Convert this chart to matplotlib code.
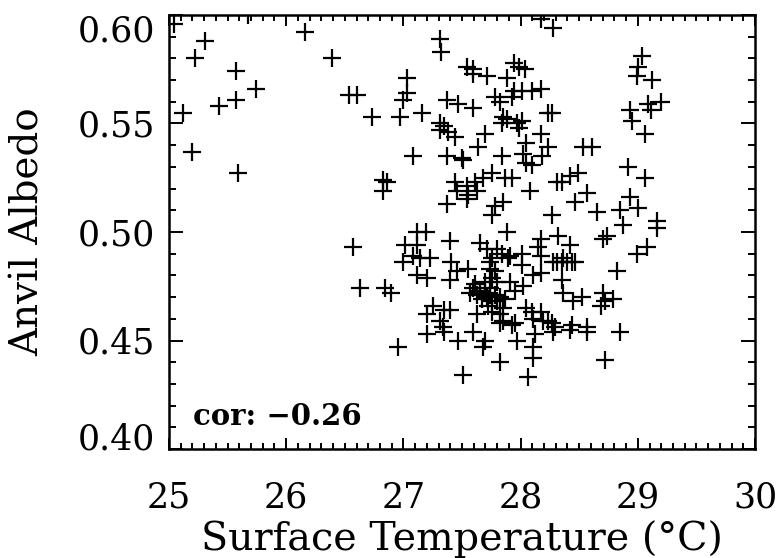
import matplotlib
matplotlib.use("Agg")
import matplotlib.pyplot as plt
from matplotlib.ticker import MultipleLocator

# Surface temperature (°C) and anvil albedo
temp_c = [
    # upper left
    25.04, 25.67, 25.31, 25.22, 25.57, 25.74, 25.57, 25.43, 25.12, 25.20, 25.59,
    26.16, 26.39, 26.54, 26.60,
    # upper middle
    27.31, 27.32, 28.17, 28.28, 27.54, 27.59, 27.59, 27.71, 27.94, 27.99, 28.04,
    27.88, 27.03, 27.03, 27.00, 26.73, 26.97, 27.16, 27.37, 27.47, 27.59, 27.78,
    27.82, 27.94, 28.01, 28.10, 28.17, 27.93, 27.85, 27.88, 27.84, 27.97, 28.01,
    27.99, 28.23, 28.27, 27.31, 27.35, 27.31, 27.38, 27.44, 27.70, 28.17, 28.05,
    27.64, 28.23, 27.08, 27.37, 27.50, 27.51, 27.84, 28.02, 28.05, 28.10, 28.18,
    26.83, 26.86, 26.83, 27.44, 27.46, 27.54, 27.55, 27.61, 27.63, 27.68, 27.76,
    27.87, 27.93, 28.08, 28.31, 27.37, 27.54, 27.85, 27.78, 27.76, 28.27,
    # upper right
    29.04, 29.00, 28.99, 29.12, 28.93, 28.95, 29.09, 29.20, 29.11, 29.06, 28.53,
    28.61, 28.35, 28.42, 28.49, 28.57, 28.46, 28.65, 28.92, 29.06, 28.93, 29.00,
    28.85, 28.87, 29.16, 29.16,
    # lower half
    26.57, 26.63, 26.84, 26.89, 26.95, 27.12, 27.19, 27.40, 27.01, 27.12, 27.08,
    27.00, 27.14, 27.23, 27.12, 27.20, 27.41, 27.46, 27.55, 27.40, 27.65, 27.71,
    27.76, 27.84, 27.74, 27.65, 27.59, 27.74, 27.80, 27.71, 27.85, 27.25, 27.40,
    27.35, 27.20, 27.31, 27.34, 27.20, 27.35, 27.47, 27.59, 27.70, 27.68, 27.63,
    27.82, 27.93, 28.10, 28.11, 28.05, 28.17, 28.23, 28.27, 27.82, 27.51, 28.06,
    28.11, 27.97, 28.11, 28.12, 28.28, 28.57, 28.72, 28.42,
    27.88, 28.17, 28.32, 28.70, 28.74, 28.42, 27.91, 28.01, 28.01, 28.15, 28.17,
    28.31, 28.35, 28.40, 28.44, 28.11, 28.17, 28.02, 27.95, 27.91, 28.35, 28.36,
    28.45, 28.52, 28.70, 28.72, 28.79, 28.82, 27.85, 27.95, 28.44, 28.57,
    29.08, 28.99, 28.28, 28.46, 28.36, 28.69, 28.85, 28.29, 28.19,
    # dense cluster near 27.7 / 0.47
    27.61, 27.70, 27.74, 27.78, 27.82, 27.67, 27.72, 27.76, 27.63, 27.70, 27.87,
    27.76, 27.82, 27.57, 27.74, 27.78, 27.76, 27.80, 27.80, 27.89,
]
albedo = [
    0.596, 0.600, 0.588, 0.580, 0.574, 0.566, 0.561, 0.558, 0.555, 0.537, 0.527,
    0.592, 0.580, 0.563, 0.563,
    0.589, 0.583, 0.598, 0.594, 0.576, 0.575, 0.573, 0.572, 0.578, 0.576, 0.575,
    0.571, 0.571, 0.564, 0.561, 0.553, 0.553, 0.555, 0.561, 0.559, 0.557, 0.562,
    0.560, 0.565, 0.565, 0.565, 0.566, 0.562, 0.553, 0.552, 0.550, 0.550, 0.551,
    0.548, 0.555, 0.555, 0.550, 0.549, 0.547, 0.546, 0.544, 0.545, 0.545, 0.541,
    0.539, 0.539, 0.535, 0.535, 0.534, 0.533, 0.535, 0.536, 0.532, 0.531, 0.535,
    0.524, 0.523, 0.519, 0.523, 0.519, 0.521, 0.517, 0.523, 0.519, 0.525, 0.527,
    0.525, 0.525, 0.519, 0.523, 0.513, 0.515, 0.514, 0.512, 0.508, 0.508,
    0.581, 0.576, 0.572, 0.570, 0.556, 0.551, 0.559, 0.560, 0.556, 0.545, 0.539,
    0.539, 0.523, 0.526, 0.527, 0.518, 0.514, 0.509, 0.530, 0.525, 0.516, 0.511,
    0.510, 0.503, 0.505, 0.502,
    0.493, 0.474, 0.474, 0.472, 0.447, 0.500, 0.500, 0.496, 0.494, 0.494, 0.489,
    0.486, 0.488, 0.488, 0.480, 0.479, 0.486, 0.482, 0.483, 0.478, 0.495, 0.492,
    0.488, 0.490, 0.483, 0.473, 0.474, 0.471, 0.468, 0.470, 0.465, 0.466, 0.464,
    0.464, 0.462, 0.459, 0.456, 0.453, 0.454, 0.450, 0.454, 0.450, 0.447, 0.462,
    0.458, 0.457, 0.463, 0.460, 0.465, 0.463, 0.459, 0.458, 0.440, 0.434, 0.433,
    0.442, 0.450, 0.447, 0.453, 0.454, 0.454, 0.441, 0.455,
    0.500, 0.497, 0.498, 0.497, 0.498, 0.494, 0.489, 0.490, 0.485, 0.493, 0.489,
    0.486, 0.486, 0.486, 0.486, 0.480, 0.481, 0.475, 0.473, 0.477, 0.478, 0.472,
    0.468, 0.470, 0.472, 0.468, 0.469, 0.482, 0.459, 0.458, 0.457, 0.456,
    0.493, 0.490, 0.486, 0.486, 0.488, 0.466, 0.454, 0.456, 0.459,
    0.476, 0.472, 0.474, 0.471, 0.470, 0.469, 0.466, 0.468, 0.471, 0.477, 0.469,
    0.463, 0.462, 0.472, 0.486, 0.482, 0.479, 0.477, 0.492, 0.488,
]

x_ticks = [25, 26, 27, 28, 29, 30]
y_ticks = [0.40, 0.45, 0.50, 0.55, 0.60]
y_tick_labels = ["0.40", "0.45", "0.50", "0.55", "0.60"]
cor_text = "cor: \u22120.26"

plt.rcParams['font.family'] = ['DejaVu Serif']

fig = plt.figure(figsize=(7.79, 5.58), dpi=100)
ax = fig.add_axes([169/779, 1 - 449/558, (755-169)/779, (449-15)/558])

ax.plot(temp_c, albedo, linestyle='none', marker='+', color='black',
        markersize=13, markeredgewidth=1.6)

ax.set_xlim(25, 30)
ax.set_ylim(0.40, 0.60)
ax.set_xticks(x_ticks)
ax.set_xticklabels([str(t) for t in x_ticks])
ax.set_yticks(y_ticks)
ax.set_yticklabels(y_tick_labels)
ax.xaxis.set_minor_locator(MultipleLocator(0.1))
ax.yaxis.set_minor_locator(MultipleLocator(0.01))

for s in ax.spines.values():
    s.set_linewidth(1.8)

ax.tick_params(axis='both', which='both', direction='in', top=True, right=True,
               width=1.4, labelsize=25)
ax.tick_params(axis='x', which='major', length=8, pad=23)
ax.tick_params(axis='x', which='minor', length=4.3)
ax.tick_params(axis='y', which='major', length=10, pad=10)
ax.tick_params(axis='y', which='minor', length=5)

ylabels = ax.get_yticklabels()
ylabels[0].set_va('baseline')
ylabels[-1].set_va('top')

ax.set_xlabel("Surface Temperature (\u00b0C)", fontsize=28.5, labelpad=4)
ax.set_ylabel("Anvil Albedo", fontsize=28, labelpad=22)

ax.text(0.041, 0.055, cor_text, transform=ax.transAxes, fontsize=21,
        fontweight='bold', ha='left', va='baseline')

fig.savefig("out.png", dpi=100)
